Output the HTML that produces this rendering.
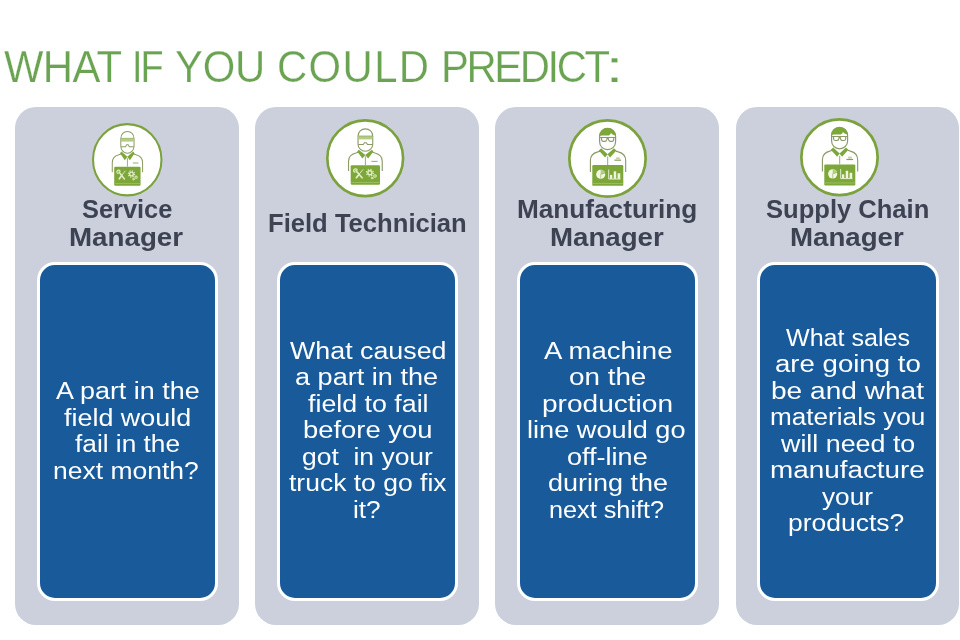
<!DOCTYPE html>
<html lang="en">
<head>
<meta charset="utf-8">
<title>What if you could predict</title>
<style>
html,body{margin:0;padding:0;background:#fff}
body{width:960px;height:640px;overflow:hidden;position:relative;font-family:'Liberation Sans',sans-serif}
.slide{position:absolute;left:0;top:0;width:960px;height:640px;background:#fff;overflow:hidden;will-change:transform}
h1,h2,p{margin:0;padding:0;font-weight:inherit;font-size:inherit}
.ln{position:absolute;display:block;white-space:pre;line-height:1;transform-origin:0 0}
.title{position:absolute;left:0;top:0;width:960px;height:100px;color:#6aa352;font-size:45px;font-weight:400;-webkit-text-stroke:0.25px #fff}
.card{position:absolute;top:107px;height:518px;background:#cbd0dc;border-radius:21px}
.card h2{position:absolute;left:0;top:0;width:100%;height:150px;color:#3d4353;font-size:25px;font-weight:700;-webkit-text-stroke:0px #cbd0dc}
.box{position:absolute;top:155px;height:339px;box-sizing:border-box;background:#185a9a;border:3px solid #fff;border-radius:18px}
.box p{position:absolute;left:-3px;top:-3px;color:#fff;font-size:23px;font-weight:400;-webkit-text-stroke:0px #185a9a}
.icon{position:absolute;display:block;overflow:visible}
</style>
</head>
<body>
<main class="slide">

<h1 class="title"><span class="ln" style="left:3.50px;top:44px;letter-spacing:-0.70px;transform:scaleX(0.9300)">WHAT</span> <span class="ln" style="left:132.10px;top:44px;letter-spacing:-2.38px;transform:scaleX(0.8400)">IF</span> <span class="ln" style="left:175.25px;top:44px;letter-spacing:-0.27px;transform:scaleX(0.9300)">YOU</span> <span class="ln" style="left:277.15px;top:44px;letter-spacing:1.48px;transform:scaleX(0.9300)">COULD</span> <span class="ln" style="left:440.50px;top:44px;letter-spacing:-2.60px;transform:scaleX(0.9300)">PREDICT</span><span class="ln" style="left:605.40px;top:44px;transform:scaleX(1.5253)">:</span></h1>
<section class="card" style="left:15px;width:224px">
<svg class="icon" style="left:76.5px;top:16.0px;width:70.5px;height:73.4px" viewBox="0 0 80 80" preserveAspectRatio="none" aria-hidden="true">
<circle cx="40" cy="40" r="38.83" fill="#fff" stroke="#7ba23d" stroke-width="2.33"/>
<g transform="translate(0 0.20) scale(1 1.0)">
<path d="M23.0 53.6V43.1q0-6.6 7.4-8.6l2.6-.8M57.4 53.6V43.1q0-6.6-7.4-8.6l-2.6-.8" stroke="#8b9a66" stroke-width="1.15" fill="none"/>
<path d="M40.2 38v9.4" stroke="#8b9a66" stroke-width=".9"/>
<path d="M33.4 31l-1.6 1.8l5.4 7.6l3-3.8z M46.8 31l1.6 1.8l-5.4 7.6l-3-3.8z" fill="#7ea73a"/>
<path d="M32.7 16.6a7.5 7.6 0 0 1 15 0v8.6a7.5 7.5 0 0 1-15 0z" fill="#fff" stroke="#8b9a66" stroke-width="1.15"/>
<rect x="33" y="16.5" width="14.4" height="3.6" fill="#b4cb86"/>
<path d="M33 16.5h14.4" stroke="#86a94a" stroke-width=".7" fill="none"/>
<path d="M33 25.6h5l1.3-2h1.8l1.3 2h5" stroke="#8b9a66" stroke-width="1.1" fill="none"/>
<path d="M46.3 43.4h6.4" stroke="#a4b184" stroke-width="1.2"/>
<rect x="25.2" y="47.4" width="29.9" height="20.8" rx="1.2" fill="#7ea73a"/>
<rect x="25.6" y="65.3" width="29.1" height=".8" fill="#a3c266"/>
<g stroke="#e1eec4" fill="none" stroke-linecap="round">
<path d="M30.6 53.2l6.2 7.6" stroke-width="1.7"/>
<path d="M31.9 52.4a1.9 1.9 0 1 0-2.4 2.5" stroke-width="1.3"/>
<path d="M37.6 52.2l-3.4 4.2" stroke-width="1"/>
<path d="M33.6 57.2l-2.6 3.4" stroke-width="1.9"/>
<circle cx="44.8" cy="55.4" r="2.1" stroke-width="1.5"/>
<circle cx="44.8" cy="55.4" r="3.5" stroke-width="1.3" stroke-dasharray="1.3 1.45" stroke-linecap="butt"/>
<circle cx="50" cy="58.8" r="1.3" stroke-width="1.1"/>
<circle cx="47" cy="61" r=".9" stroke-width="1"/>
</g>
</g>
</svg>
<h2><span class="ln" style="left:66.75px;top:90px;transform:scaleX(1.0155)">Service</span> <span class="ln" style="left:54.05px;top:118px;transform:scaleX(1.1092)">Manager</span></h2>
<div class="box" style="left:22px;width:181px"><p><span class="ln" style="left:18.75px;top:118px;transform:scaleX(1.1704)">A part in the</span> <span class="ln" style="left:26.95px;top:145px;transform:scaleX(1.1696)">field would</span> <span class="ln" style="left:38.15px;top:171px;transform:scaleX(1.1410)">fail in the</span> <span class="ln" style="left:16.45px;top:198px;transform:scaleX(1.1513)">next month?</span></p></div>
</section>
<section class="card" style="left:255px;width:224px">
<svg class="icon" style="left:70.8px;top:11.8px;width:78.4px;height:78.4px" viewBox="0 0 80 80" preserveAspectRatio="none" aria-hidden="true">
<circle cx="40" cy="40" r="38.65" fill="#fff" stroke="#7ba23d" stroke-width="2.70"/>
<g transform="translate(0 1.40) scale(1 0.965)">
<path d="M23.0 53.6V43.1q0-6.6 7.4-8.6l2.6-.8M57.4 53.6V43.1q0-6.6-7.4-8.6l-2.6-.8" stroke="#8b9a66" stroke-width="1.15" fill="none"/>
<path d="M40.2 38v9.4" stroke="#8b9a66" stroke-width=".9"/>
<path d="M33.4 31l-1.6 1.8l5.4 7.6l3-3.8z M46.8 31l1.6 1.8l-5.4 7.6l-3-3.8z" fill="#7ea73a"/>
<path d="M32.7 16.6a7.5 7.6 0 0 1 15 0v8.6a7.5 7.5 0 0 1-15 0z" fill="#fff" stroke="#8b9a66" stroke-width="1.15"/>
<rect x="33" y="16.5" width="14.4" height="3.6" fill="#b4cb86"/>
<path d="M33 16.5h14.4" stroke="#86a94a" stroke-width=".7" fill="none"/>
<path d="M33 25.6h5l1.3-2h1.8l1.3 2h5" stroke="#8b9a66" stroke-width="1.1" fill="none"/>
<path d="M46.3 43.4h6.4" stroke="#a4b184" stroke-width="1.2"/>
<rect x="25.2" y="47.4" width="29.9" height="20.8" rx="1.2" fill="#7ea73a"/>
<rect x="25.6" y="65.3" width="29.1" height=".8" fill="#a3c266"/>
<g stroke="#e1eec4" fill="none" stroke-linecap="round">
<path d="M30.6 53.2l6.2 7.6" stroke-width="1.7"/>
<path d="M31.9 52.4a1.9 1.9 0 1 0-2.4 2.5" stroke-width="1.3"/>
<path d="M37.6 52.2l-3.4 4.2" stroke-width="1"/>
<path d="M33.6 57.2l-2.6 3.4" stroke-width="1.9"/>
<circle cx="44.8" cy="55.4" r="2.1" stroke-width="1.5"/>
<circle cx="44.8" cy="55.4" r="3.5" stroke-width="1.3" stroke-dasharray="1.3 1.45" stroke-linecap="butt"/>
<circle cx="50" cy="58.8" r="1.3" stroke-width="1.1"/>
<circle cx="47" cy="61" r=".9" stroke-width="1"/>
</g>
</g>
</svg>
<h2><span class="ln" style="left:12.95px;top:104px;transform:scaleX(1.0244)">Field Technician</span></h2>
<div class="box" style="left:22px;width:181px"><p><span class="ln" style="left:12.50px;top:78px;transform:scaleX(1.1660)">What caused</span> <span class="ln" style="left:18.45px;top:104px;transform:scaleX(1.1782)">a part in the</span> <span class="ln" style="left:30.75px;top:131px;transform:scaleX(1.1641)">field to fail</span> <span class="ln" style="left:25.85px;top:157px;transform:scaleX(1.1905)">before you</span> <span class="ln" style="left:24.70px;top:184px;transform:scaleX(1.1502)">got  in your</span> <span class="ln" style="left:11.70px;top:210px;transform:scaleX(1.1516)">truck to go fix</span> <span class="ln" style="left:75.50px;top:237px;transform:scaleX(1.1410)">it?</span></p></div>
</section>
<section class="card" style="left:495px;width:224px">
<svg class="icon" style="left:72.7px;top:11.9px;width:79.0px;height:79.0px" viewBox="0 0 80 80" preserveAspectRatio="none" aria-hidden="true">
<circle cx="40" cy="40" r="38.63" fill="#fff" stroke="#7ba23d" stroke-width="2.73"/>
<g transform="translate(0 0.00) scale(1 1.0)">
<path d="M22.7 53.6V41.9q0-6.6 7.4-8.6l2.6-.8M58.4 53.6V41.9q0-6.6-7.4-8.6l-2.6-.8" stroke="#8b9a66" stroke-width="1.15" fill="none"/>
<path d="M40.2 38v8.6" stroke="#8b9a66" stroke-width=".9"/>
<path d="M33.6 29.6l-2.4 2.4l6.4 7l2.6-3.4z M46.6 29.6l2.4 2.4l-6.4 7l-2.6-3.4z" fill="#7ea73a"/>
<path d="M32 17.5a8.1 8 0 0 1 16.2 0v5.6a8.1 7.9 0 0 1-16.2 0z" fill="#fff" stroke="#8b9a66" stroke-width="1.2"/>
<path d="M31.5 17.4a8.5 8.3 0 0 1 8.5-8.3c4.2 0 7.8 2.8 8.7 7.6c-2.4 0-4-.8-5.2-2.4c-.3 1.2-1 2-2.2 2.4h-6.8q-1.6 0-3 .7z" fill="#7ea73a"/>
<path d="M32.4 18.7h15.5M34 18.7v2.5q.3 1.5 1.8 1.5h1.6q1.3 0 1.8-1.5l.6-2.5M46.3 18.7v2.5q-.3 1.5-1.8 1.5h-1.6q-1.3 0-1.8-1.5l-.6-2.5" stroke="#8b9a66" stroke-width="1.15" fill="none"/>
<path d="M47 41.7h6.8" stroke="#8b9a66" stroke-width="1.2"/><rect x="48.8" y="38.8" width="3.6" height="2.1" fill="#c3cfa6"/>
<rect x="24.6" y="46.6" width="31.4" height="21.1" rx="1.2" fill="#7ea73a"/>
<rect x="25.0" y="64.8" width="30.6" height=".8" fill="#a3c266"/>
<circle cx="33.1" cy="56.1" r="4.6" fill="#f1f7e2"/>
<path d="M33.1 56.1v-4.6a4.6 4.6 0 0 1 4.4 3.2z" fill="#b5cd85"/>
<path d="M33.1 56.1l4.4-1.4M33.1 56.1v4.4" stroke="#7ea73a" stroke-width=".5"/>
<path d="M41.2 51.2v9.6h12" stroke="#eef5dc" stroke-width=".9" fill="none"/>
<rect x="42.5" y="56.6" width="2.3" height="4" fill="#eef5dc"/><rect x="46.3" y="53" width="2.5" height="7.6" fill="#eef5dc"/><rect x="50.2" y="55" width="2.7" height="5.6" fill="#eef5dc"/>
</g>
</svg>
<h2><span class="ln" style="left:21.55px;top:90px;transform:scaleX(1.0471)">Manufacturing</span> <span class="ln" style="left:54.75px;top:118px;transform:scaleX(1.1067)">Manager</span></h2>
<div class="box" style="left:22px;width:181px"><p><span class="ln" style="left:26.80px;top:78px;transform:scaleX(1.1962)">A machine</span> <span class="ln" style="left:51.75px;top:104px;transform:scaleX(1.2089)">on the</span> <span class="ln" style="left:24.50px;top:131px;transform:scaleX(1.2201)">production</span> <span class="ln" style="left:10.45px;top:157px;transform:scaleX(1.1806)">line would go</span> <span class="ln" style="left:50.00px;top:184px;transform:scaleX(1.1760)">off-line</span> <span class="ln" style="left:30.50px;top:210px;transform:scaleX(1.1741)">during the</span> <span class="ln" style="left:31.65px;top:237px;transform:scaleX(1.0976)">next shift?</span></p></div>
</section>
<section class="card" style="left:736px;width:223px">
<svg class="icon" style="left:63.9px;top:11.1px;width:79.0px;height:78.4px" viewBox="0 0 80 80" preserveAspectRatio="none" aria-hidden="true">
<circle cx="40" cy="40" r="38.63" fill="#fff" stroke="#7ba23d" stroke-width="2.74"/>
<g transform="translate(0 -0.20) scale(1 1.02)">
<path d="M22.7 53.6V41.9q0-6.6 7.4-8.6l2.6-.8M58.4 53.6V41.9q0-6.6-7.4-8.6l-2.6-.8" stroke="#8b9a66" stroke-width="1.15" fill="none"/>
<path d="M40.2 38v8.6" stroke="#8b9a66" stroke-width=".9"/>
<path d="M33.6 29.6l-2.4 2.4l6.4 7l2.6-3.4z M46.6 29.6l2.4 2.4l-6.4 7l-2.6-3.4z" fill="#7ea73a"/>
<path d="M32 17.5a8.1 8 0 0 1 16.2 0v5.6a8.1 7.9 0 0 1-16.2 0z" fill="#fff" stroke="#8b9a66" stroke-width="1.2"/>
<path d="M31.5 17.4a8.5 8.3 0 0 1 8.5-8.3c4.2 0 7.8 2.8 8.7 7.6c-2.4 0-4-.8-5.2-2.4c-.3 1.2-1 2-2.2 2.4h-6.8q-1.6 0-3 .7z" fill="#7ea73a"/>
<path d="M32.4 18.7h15.5M34 18.7v2.5q.3 1.5 1.8 1.5h1.6q1.3 0 1.8-1.5l.6-2.5M46.3 18.7v2.5q-.3 1.5-1.8 1.5h-1.6q-1.3 0-1.8-1.5l-.6-2.5" stroke="#8b9a66" stroke-width="1.15" fill="none"/>
<path d="M47 41.7h6.8" stroke="#8b9a66" stroke-width="1.2"/><rect x="48.8" y="38.8" width="3.6" height="2.1" fill="#c3cfa6"/>
<rect x="24.6" y="46.6" width="31.4" height="21.1" rx="1.2" fill="#7ea73a"/>
<rect x="25.0" y="64.8" width="30.6" height=".8" fill="#a3c266"/>
<circle cx="33.1" cy="56.1" r="4.6" fill="#f1f7e2"/>
<path d="M33.1 56.1v-4.6a4.6 4.6 0 0 1 4.4 3.2z" fill="#b5cd85"/>
<path d="M33.1 56.1l4.4-1.4M33.1 56.1v4.4" stroke="#7ea73a" stroke-width=".5"/>
<path d="M41.2 51.2v9.6h12" stroke="#eef5dc" stroke-width=".9" fill="none"/>
<rect x="42.5" y="56.6" width="2.3" height="4" fill="#eef5dc"/><rect x="46.3" y="53" width="2.5" height="7.6" fill="#eef5dc"/><rect x="50.2" y="55" width="2.7" height="5.6" fill="#eef5dc"/>
</g>
</svg>
<h2><span class="ln" style="left:29.75px;top:90px;transform:scaleX(1.0222)">Supply Chain</span> <span class="ln" style="left:53.75px;top:118px;transform:scaleX(1.1067)">Manager</span></h2>
<div class="box" style="left:21px;width:182px"><p><span class="ln" style="left:28.75px;top:65px;transform:scaleX(1.0905)">What sales</span> <span class="ln" style="left:17.50px;top:91px;transform:scaleX(1.1996)">are going to</span> <span class="ln" style="left:13.65px;top:118px;transform:scaleX(1.2206)">be and what</span> <span class="ln" style="left:13.25px;top:144px;transform:scaleX(1.1361)">materials you</span> <span class="ln" style="left:24.40px;top:171px;transform:scaleX(1.1671)">will need to</span> <span class="ln" style="left:12.85px;top:197px;transform:scaleX(1.2112)">manufacture</span> <span class="ln" style="left:65.35px;top:224px;transform:scaleX(1.1398)">your</span> <span class="ln" style="left:31.05px;top:250px;transform:scaleX(1.1504)">products?</span></p></div>
</section>
</main>
</body>
</html>
